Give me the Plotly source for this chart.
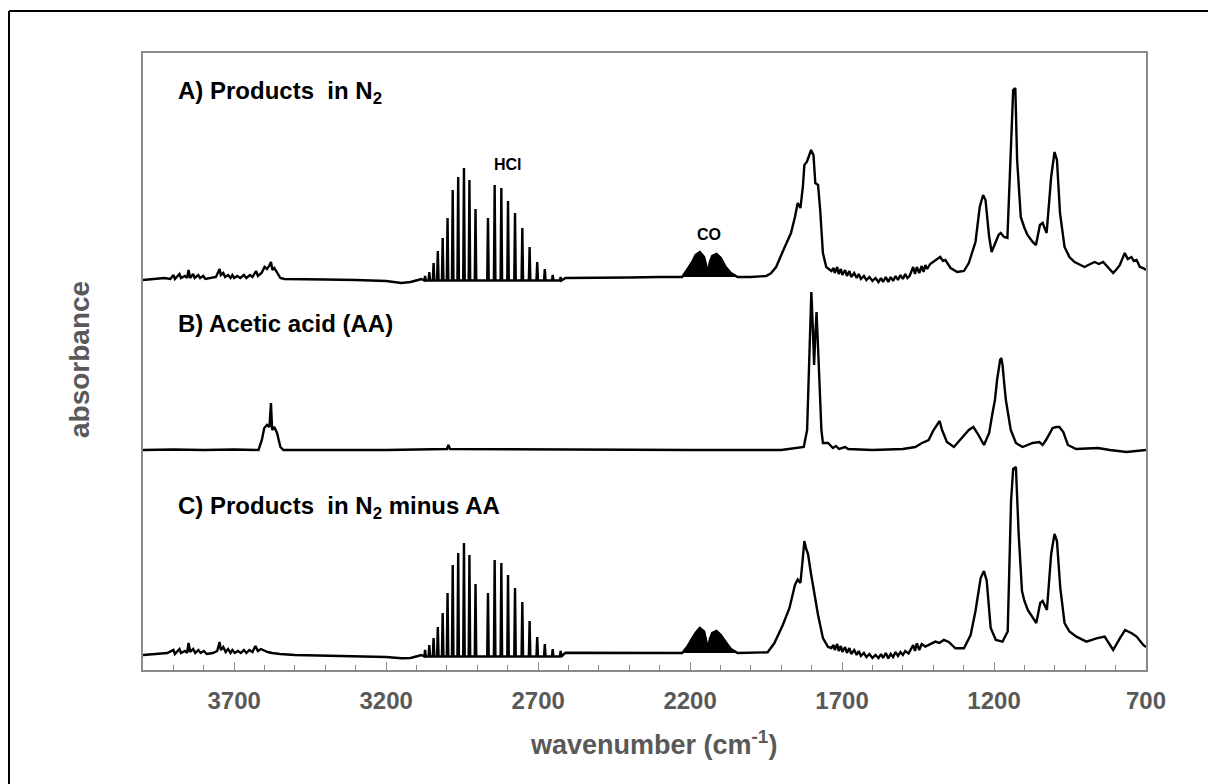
import plotly.graph_objects as go

# ---------------- data (absorbance, arbitrary units) ----------------
# Trace A: products in N2 (continuous part)
a_wn = [4000, 3960, 3930, 3910, 3900, 3895, 3880, 3875, 3862, 3855, 3850, 3845, 3835, 3830, 3818, 3812,
        3802, 3795, 3775, 3760, 3748, 3744, 3736, 3730, 3720, 3712, 3706, 3700, 3690, 3680, 3668, 3660,
        3648, 3640, 3628, 3622, 3610, 3600, 3592, 3585, 3579, 3574, 3568, 3562, 3555, 3548, 3535, 3500,
        3400, 3300, 3200, 3150, 3120, 3095, 3085,
        2610, 2500, 2400, 2300, 2235,
        2000, 1950, 1934, 1917, 1890, 1868, 1855, 1846, 1837, 1829, 1824, 1816, 1810, 1802, 1794, 1788,
        1779, 1772, 1763, 1752, 1735, 1728, 1724, 1716, 1711, 1704, 1699, 1690, 1684, 1676, 1670, 1660,
        1652, 1645, 1638, 1628, 1620, 1610, 1600, 1590, 1580, 1572, 1565, 1556, 1548, 1540, 1532, 1524,
        1516, 1508, 1500, 1492, 1485, 1478, 1466, 1460, 1454, 1446, 1438, 1432, 1426, 1420, 1410, 1399,
        1387, 1377, 1368, 1360, 1343, 1321, 1299, 1283, 1261, 1247, 1236, 1228, 1216, 1208, 1194, 1185,
        1178, 1167, 1156, 1145, 1137, 1130, 1124, 1112, 1105, 1101, 1090, 1073, 1062, 1049, 1040, 1027,
        1012, 1001, 993, 983, 968, 952, 935, 902, 890, 869, 855, 841, 826, 808, 796, 786, 770, 760, 748,
        740, 731, 720, 709, 700]
a_abs = [-0.01, 0, 0.01, 0, 0.04, 0, 0.05, 0.01, 0.03, 0.01, 0.09, 0.01, 0.05, 0.01, 0.04, 0.01,
         0.03, 0, 0.01, 0.02, 0.10, 0.04, 0.06, 0.02, 0.04, 0.01, 0.04, 0.01, 0.03, 0.01, 0.04, 0.01,
         0.04, 0.02, 0.08, 0.03, 0.06, 0.12, 0.10, 0.13, 0.17, 0.09, 0.11, 0.08, 0.04, 0.01, 0, 0,
         -0.005, -0.01, -0.02, -0.04, -0.03, -0.01, 0,
         0.01, 0.01, 0.015, 0.02, 0.02,
         0.02, 0.03, 0.057, 0.12, 0.31, 0.46, 0.62, 0.76, 0.71, 0.92, 1.14, 1.17, 1.22, 1.29, 1.24, 0.96,
         0.94, 0.69, 0.26, 0.12, 0.08, 0.11, 0.06, 0.12, 0.05, 0.10, 0.04, 0.09, 0.03, 0.08, 0.02, 0.06,
         0.01, 0.05, 0, 0.03, -0.01, 0.02, -0.02, 0.01, -0.03, 0.01, -0.03, 0.02, -0.03, 0.02, -0.02, 0.03,
         -0.01, 0.04, 0, 0.05, 0.01, 0.03, 0.12, 0.05, 0.12, 0.06, 0.13, 0.07, 0.14, 0.10, 0.15, 0.17,
         0.20, 0.22, 0.18, 0.19, 0.11, 0.07, 0.08, 0.16, 0.37, 0.72, 0.84, 0.79, 0.42, 0.27, 0.37, 0.44,
         0.46, 0.42, 0.41, 1.19, 1.89, 1.91, 1.19, 0.62, 0.55, 0.52, 0.44, 0.37, 0.34, 0.54, 0.56, 0.46,
         1.02, 1.27, 1.19, 0.66, 0.32, 0.22, 0.17, 0.12, 0.14, 0.17, 0.15, 0.17, 0.12, 0.06, 0.10, 0.14,
         0.26, 0.20, 0.22, 0.18, 0.19, 0.12, 0.11, 0.09]

# HCl rotational lines (shared positions)
hcl_wn = [3072, 3058, 3044, 3030, 3014, 2998, 2981, 2963, 2944, 2926, 2906,
          2865, 2843, 2821, 2799, 2776, 2752, 2728, 2703, 2678, 2652, 2626]
a_hcl_abs = [0.03, 0.07, 0.16, 0.28, 0.41, 0.61, 0.89, 1.02, 1.11, 0.99, 0.70,
             0.61, 0.94, 0.91, 0.78, 0.66, 0.51, 0.32, 0.17, 0.10, 0.04, 0.02]
c_hcl_abs = [0.05, 0.10, 0.17, 0.28, 0.42, 0.62, 0.90, 1.02, 1.12, 1.00, 0.71,
             0.62, 0.95, 0.92, 0.80, 0.67, 0.53, 0.34, 0.18, 0.11, 0.06, 0.04]

# CO band envelope (shared positions)
co_wn = [2226, 2210, 2193, 2182, 2168, 2154, 2146, 2140, 2135, 2127, 2113, 2099, 2083, 2066, 2044]
a_co_abs = [0.02, 0.09, 0.17, 0.24, 0.27, 0.22, 0.12, 0.08, 0.17, 0.23, 0.25, 0.21, 0.12, 0.06, 0.02]
c_co_abs = [0.02, 0.08, 0.17, 0.22, 0.27, 0.235, 0.13, 0.07, 0.16, 0.22, 0.24, 0.20, 0.13, 0.06, 0.02]

# Trace B: acetic acid
b_wn = [4000, 3900, 3800, 3700, 3620, 3609, 3601, 3592, 3584, 3579, 3575, 3568, 3559, 3548, 3538,
        3400, 3200, 3000, 2995, 2990, 2900, 2600, 2200, 2000, 1900, 1826, 1815, 1808, 1801, 1796,
        1792, 1788, 1784, 1780, 1775, 1768, 1763, 1746, 1730, 1720, 1710, 1702, 1690, 1680, 1600,
        1500, 1459, 1437, 1415, 1399, 1388, 1379, 1371, 1355, 1332, 1305, 1283, 1268, 1255, 1233,
        1216, 1205, 1197, 1190, 1185, 1180, 1176, 1172, 1166, 1161, 1145, 1128, 1106, 1073, 1051,
        1040, 1029, 1007, 995, 985, 972, 957, 930, 858, 819, 764, 700]
b_abs = [0, 0.005, 0, 0.005, 0, 0.10, 0.22, 0.25, 0.23, 0.47, 0.20, 0.23, 0.17, 0.03, 0,
         0, 0, 0.01, 0.05, 0.01, 0.01, 0.005, 0, 0, 0, 0.03, 0.20, 0.90, 1.58, 1.20,
         0.85, 1.15, 1.38, 1.10, 0.70, 0.20, 0.07, 0.07, 0.02, 0.04, 0.01, 0.02, 0.03, 0.01, 0,
         0.01, 0.03, 0.07, 0.10, 0.20, 0.25, 0.29, 0.20, 0.08, 0.03, 0.12, 0.20, 0.23, 0.17, 0.05,
         0.17, 0.37, 0.50, 0.70, 0.78, 0.90, 0.92, 0.85, 0.65, 0.50, 0.20, 0.07, 0.03, 0.07, 0.08,
         0.05, 0.10, 0.22, 0.23, 0.23, 0.18, 0.05, 0.01, 0.02, 0, -0.02, 0]

# Trace C: products in N2 minus AA (continuous part)
c_wn = [4000, 3960, 3920, 3900, 3895, 3880, 3875, 3862, 3855, 3850, 3845, 3835, 3828, 3818, 3810,
        3800, 3790, 3770, 3756, 3748, 3744, 3736, 3728, 3720, 3712, 3706, 3698, 3688, 3678, 3668,
        3660, 3650, 3640, 3630, 3622, 3612, 3600, 3590, 3575, 3550, 3500, 3400, 3300, 3200, 3150,
        3120, 3095, 3085,
        2610, 2400, 2235,
        2000, 1945, 1923, 1895, 1873, 1855, 1846, 1837, 1829, 1824, 1818, 1812, 1802, 1790, 1779,
        1763, 1746, 1735, 1728, 1724, 1716, 1711, 1704, 1699, 1690, 1684, 1676, 1670, 1660, 1652,
        1645, 1638, 1628, 1620, 1610, 1600, 1590, 1580, 1572, 1565, 1556, 1548, 1540, 1532, 1524,
        1516, 1508, 1500, 1492, 1481, 1466, 1460, 1454, 1446, 1438, 1426, 1410, 1393, 1380, 1365,
        1349, 1327, 1299, 1277, 1261, 1244, 1233, 1224, 1211, 1194, 1172, 1155, 1144, 1137, 1128,
        1119, 1108, 1100, 1089, 1073, 1061, 1048, 1040, 1026, 1012, 1001, 993, 982, 968, 952, 929,
        896, 863, 836, 808, 786, 769, 747, 731, 709, 700]
c_abs = [0, 0.01, 0.02, 0.05, 0.01, 0.06, 0.02, 0.04, 0.02, 0.12, 0.03, 0.06, 0.02, 0.05, 0.02,
         0.04, 0.01, 0.02, 0.04, 0.13, 0.05, 0.08, 0.03, 0.06, 0.02, 0.05, 0.02, 0.04, 0.02, 0.05,
         0.02, 0.05, 0.03, 0.09, 0.04, 0.06, 0.04, 0.03, 0.02, 0.01, 0, -0.005, -0.01, -0.02, -0.033,
         -0.03, -0.01, 0,
         0.023, 0.023, 0.02,
         0.02, 0.027, 0.117, 0.30, 0.47, 0.70, 0.755, 0.72, 0.97, 1.14, 1.06, 1.01, 0.81, 0.60, 0.40,
         0.17, 0.08, 0.07, 0.10, 0.05, 0.11, 0.04, 0.09, 0.03, 0.08, 0.02, 0.07, 0.01, 0.05, 0,
         0.04, -0.01, 0.02, -0.02, 0.01, -0.03, 0, -0.03, 0.01, -0.03, 0.02, -0.035, 0.01, -0.02, 0.03,
         -0.01, 0.03, 0, 0.04, 0.016, 0.10, 0.04, 0.117, 0.05, 0.11, 0.084, 0.11, 0.134, 0.12, 0.151,
         0.13, 0.067, 0.067, 0.20, 0.44, 0.77, 0.84, 0.74, 0.27, 0.15, 0.134, 0.235, 1.54, 1.86, 1.88,
         1.21, 0.64, 0.54, 0.45, 0.37, 0.32, 0.52, 0.54, 0.45, 1.01, 1.21, 1.14, 0.67, 0.32, 0.235, 0.184,
         0.134, 0.167, 0.184, 0.05, 0.167, 0.25, 0.218, 0.184, 0.10, 0.08]

# vertical offsets of the stacked spectra
offset_a, offset_b, offset_c = 3.91, 2.20, 0.15
stick_base = -0.015
stick_half = 2.5

major_ticks = [3700, 3200, 2700, 2200, 1700, 1200, 700]
minor_ticks = list(range(3900, 700, -100))

FONT = "Liberation Sans, Arial, sans-serif"
BLACK = "#000000"
GREY_TXT = "#595959"
FRAME = "#8a8a8a"


def merge(cont_wn, cont_abs, stick_wn, stick_abs, band_wn, band_abs):
    pts = list(zip(cont_wn, cont_abs))
    for c, h in zip(stick_wn, stick_abs):
        pts += [(c + stick_half, stick_base), (c, h), (c - stick_half, stick_base)]
    pts += list(zip(band_wn, band_abs))
    pts.sort(key=lambda p: -p[0])
    return [p[0] for p in pts], [p[1] for p in pts]


fig = go.Figure()

ax, ay = merge(a_wn, a_abs, hcl_wn, a_hcl_abs, co_wn, a_co_abs)
cx, cy = merge(c_wn, c_abs, hcl_wn, c_hcl_abs, co_wn, c_co_abs)

line = dict(color=BLACK, width=2.4)
for xs, ys, off in [(ax, ay, offset_a), (b_wn, b_abs, offset_b), (cx, cy, offset_c)]:
    fig.add_trace(go.Scatter(x=xs, y=[v + off for v in ys], mode="lines", line=line,
                             showlegend=False, hoverinfo="skip"))

for band, off in [(a_co_abs, offset_a), (c_co_abs, offset_c)]:
    fig.add_trace(go.Scatter(x=co_wn, y=[v + off for v in band], mode="lines", fill="toself",
                             fillcolor=BLACK, line=dict(color=BLACK, width=1.5),
                             showlegend=False, hoverinfo="skip"))

# plot area in pixels: left 143, right 1146, top 53, bottom 670
L, R, T, B = 143, 1146, 53, 670
W, H = R - L, B - T


def px(xp):
    return (xp - L) / W


def py(yp):
    return (B - yp) / H


ann = []
lab_font = dict(family=FONT, size=24, color=BLACK, weight="bold")
ann.append(dict(text="A) Products  in N<sub>2</sub>", x=px(176), y=py(92), font=lab_font))
ann.append(dict(text="B) Acetic acid (AA)", x=px(176), y=py(323), font=lab_font))
ann.append(dict(text="C) Products  in N<sub>2</sub> minus AA", x=px(176), y=py(507), font=lab_font))
for a in ann:
    a.update(xref="paper", yref="paper", xanchor="left", yanchor="middle", showarrow=False)

small = dict(family=FONT, size=16, color=BLACK, weight="bold")
ann.append(dict(text="HCl", x=px(508), y=py(164), xref="paper", yref="paper",
                showarrow=False, font=small, xanchor="center", yanchor="middle"))
ann.append(dict(text="CO", x=px(709), y=py(234), xref="paper", yref="paper",
                showarrow=False, font=small, xanchor="center", yanchor="middle"))

ann.append(dict(text="wavenumber (cm<sup>-1</sup>)", x=px(653), y=py(743), xref="paper", yref="paper",
                showarrow=False, xanchor="center", yanchor="middle",
                font=dict(family=FONT, size=27, color=GREY_TXT, weight="bold")))
ann.append(dict(text="absorbance", x=px(79), y=py(360), xref="paper", yref="paper",
                showarrow=False, xanchor="center", yanchor="middle", textangle=-90,
                font=dict(family=FONT, size=28, color=GREY_TXT, weight="bold")))

shapes = [
    dict(type="line", xref="paper", yref="paper", x0=px(9), x1=px(1215), y0=py(11), y1=py(11),
         line=dict(color=BLACK, width=2)),
    dict(type="line", xref="paper", yref="paper", x0=px(9), x1=px(9), y0=py(11), y1=py(800),
         line=dict(color=BLACK, width=2)),
]

fig.update_layout(
    width=1208, height=784,
    margin=dict(l=L, r=1208 - R, t=T, b=784 - B),
    paper_bgcolor="white", plot_bgcolor="white",
    annotations=ann, shapes=shapes,
    xaxis=dict(range=[4000, 700], showgrid=False, zeroline=False,
               showline=True, linecolor=FRAME, linewidth=1.5, mirror=True,
               ticks="inside", ticklen=8, tickwidth=1.2, tickcolor=FRAME,
               tickvals=major_ticks, ticktext=[str(v) for v in major_ticks],
               tickfont=dict(family=FONT, size=24, color=GREY_TXT, weight="bold"),
               ticklabelstandoff=8,
               minor=dict(ticks="inside", ticklen=5, tickwidth=1.2, tickcolor=FRAME,
                          tickvals=minor_ticks, showgrid=False)),
    yaxis=dict(range=[0, 6.17], showgrid=False, zeroline=False, showticklabels=False,
               showline=True, linecolor=FRAME, linewidth=1.5, mirror=True, ticks=""),
)

fig.write_html("out.html")
